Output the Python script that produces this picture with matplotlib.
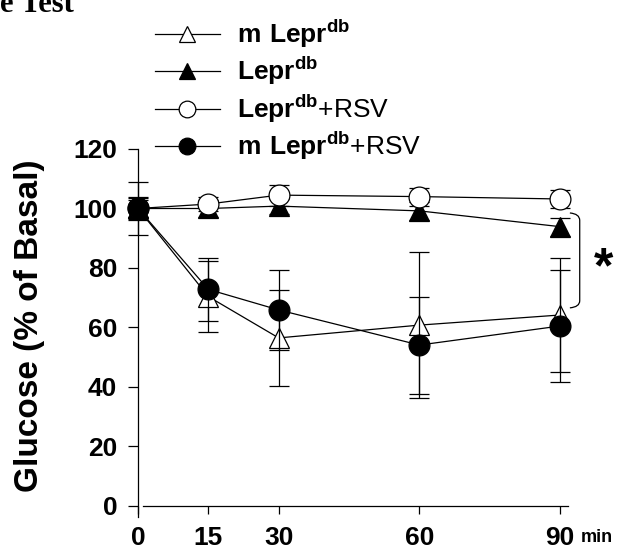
import matplotlib
matplotlib.use('Agg')
import matplotlib.pyplot as plt
from matplotlib.path import Path
import matplotlib.patches as mpatches

plt.rcParams['font.family'] = ['Liberation Sans', 'DejaVu Sans']
plt.rcParams['mathtext.fontset'] = 'custom'
plt.rcParams['mathtext.rm'] = 'Liberation Sans'
plt.rcParams['mathtext.bf'] = 'Liberation Sans:bold'

# data (glucose, % of basal)
time = [0, 15, 30, 60, 90]
m_lepr = [100, 70.4, 56.5, 60.8, 64.2]
m_lepr_err = [9, 12, 16, 24.5, 19]
lepr = [100, 100, 100.8, 99.2, 93.9]
lepr_err = [3, 3, 2.5, 3, 3]
lepr_rsv = [100, 101.5, 104.5, 104, 103.2]
lepr_rsv_err = [3.5, 2.5, 3.5, 3, 3]
m_lepr_rsv = [100, 72.8, 65.9, 54.1, 60.5]
m_lepr_rsv_err = [4, 10.5, 13.5, 16.3, 18.8]

labels = [r'$\mathbf{m\ Lepr}^{\mathbf{db}}$', r'$\mathbf{Lepr}^{\mathbf{db}}$',
          r'$\mathbf{Lepr}^{\mathbf{db}}$+RSV', r'$\mathbf{m\ Lepr}^{\mathbf{db}}$+RSV']
xticks = [0, 15, 30, 60, 90]
yticks = [0, 20, 40, 60, 80, 100, 120]

fig = plt.figure(figsize=(6.18, 5.52), dpi=100)
ax = fig.add_axes([138/618, 1 - 517/552, 430/618, 368/552])

for s in ['top', 'right']:
    ax.spines[s].set_visible(False)
ax.spines['bottom'].set_position(('data', 0))
ax.spines['left'].set_linewidth(0.9)
ax.spines['bottom'].set_linewidth(0.9)

series = [
    (m_lepr, m_lepr_err, '^', 'white'),
    (lepr, lepr_err, '^', 'black'),
    (lepr_rsv, lepr_rsv_err, 'o', 'white'),
    (m_lepr_rsv, m_lepr_rsv_err, 'o', 'black'),
]
for (vals, err, mk, fc), lab in zip(series, labels):
    ax.errorbar(time, vals, yerr=err, fmt='none', ecolor='black',
                elinewidth=0.9, capsize=7.5, capthick=0.9, clip_on=False)
    ax.plot(time, vals, color='black', lw=0.9, marker=mk, markersize=15,
            markerfacecolor=fc, markeredgecolor='black', markeredgewidth=0.9,
            label=lab, clip_on=False)

ax.set_xlim(0, 91.7)
ax.set_ylim(-3.7, 120)
ax.spines['bottom'].set_bounds(1, 91.7)
ax.set_xticks(xticks)
ax.set_yticks(yticks)
ax.set_xticklabels([str(t) for t in xticks], fontsize=19, fontweight='bold')
ax.set_yticklabels([str(t) for t in yticks], fontsize=19, fontweight='bold')
ax.tick_params(axis='y', direction='out', length=7, width=0.9, pad=8)
ax.tick_params(axis='x', direction='out', length=5.5, width=0.9, pad=9)

fig.text(30/618, 1 - 326/552, 'Glucose (% of Basal)', rotation=90,
         ha='center', va='center', fontsize=24, fontweight='bold')
fig.text(597/618, 1 - 538/552, 'min', ha='center', va='center',
         fontsize=13, fontweight='bold')
fig.text(0, 1 - 12/552, 'e Test', ha='left', va='baseline',
         family='Liberation Serif', fontsize=22, fontweight='bold')

# significance bracket
verts = [(92.1, 98.5), (94.2, 98.2), (94.2, 96.0),
         (94.2, 69.0), (94.2, 66.9), (92.1, 66.6)]
codes = [Path.MOVETO, Path.CURVE3, Path.CURVE3,
         Path.LINETO, Path.CURVE3, Path.CURVE3]
ax.add_patch(mpatches.PathPatch(Path(verts, codes), fill=False, lw=0.9,
                                edgecolor='black', clip_on=False))
ax.text(99.2, 79.5, '*', ha='center', va='center', fontsize=36,
        fontweight='bold', clip_on=False)

ax.legend(loc='upper left', bbox_to_anchor=(155/618, 1 - 17/552),
          bbox_transform=fig.transFigure, frameon=False, fontsize=19,
          handlelength=2.46, handletextpad=0.64, labelspacing=0.18,
          borderpad=0, borderaxespad=0, markerscale=0.8)

fig.savefig('out.png', dpi=100)
